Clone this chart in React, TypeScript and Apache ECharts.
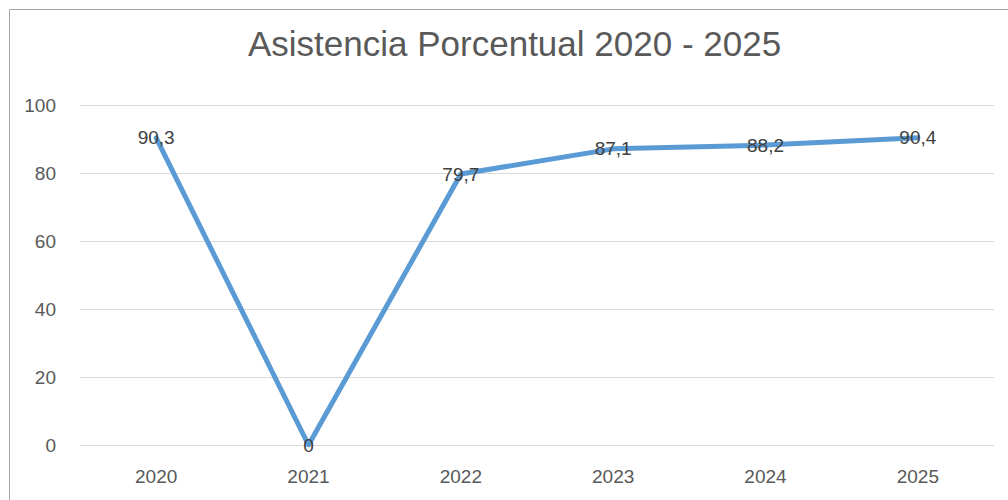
import React, { useEffect, useRef } from "react";
import * as echarts from "echarts";

const categories = ["2020", "2021", "2022", "2023", "2024", "2025"];
const values = [90.3, 0, 79.7, 87.1, 88.2, 90.4];
const titleText = "Asistencia Porcentual 2020 - 2025";

export default function App() {
  const ref = useRef<HTMLDivElement>(null);
  useEffect(() => {
    if (!ref.current) return;
    const chart = echarts.init(ref.current, undefined, { renderer: "svg" });
    chart.setOption({
      animation: false,
      backgroundColor: "#ffffff",
      textStyle: { fontFamily: "Liberation Sans, Arial, sans-serif" },
      title: {
        text: titleText,
        left: 243,
        top: 21,
        textStyle: { fontSize: 35, fontWeight: "normal", color: "#595959", fontFamily: "Liberation Sans, sans-serif" },
      },
      graphic: [
        {
          type: "rect",
          shape: { x: 9.5, y: 9.5, width: 1200, height: 800 },
          style: { fill: "none", stroke: "#a6a6a6", lineWidth: 1 },
          silent: true,
        },
      ],
      grid: { left: 80, right: 14, top: 105, bottom: 55, containLabel: false },
      xAxis: {
        type: "category",
        data: categories,
        boundaryGap: true,
        axisLine: { show: true, lineStyle: { color: "#d9d9d9", width: 1 } },
        axisTick: { show: false },
        axisLabel: { color: "#595959", fontSize: 19, margin: 22 },
      },
      yAxis: {
        type: "value",
        min: 0,
        max: 100,
        interval: 20,
        axisLine: { show: false },
        axisTick: { show: false },
        splitLine: { lineStyle: { color: "#d9d9d9", width: 1 } },
        axisLabel: { color: "#595959", fontSize: 19, margin: 24 },
      },
      series: [
        {
          type: "line",
          data: values,
          showSymbol: true,
          symbol: "circle",
          symbolSize: 1,
          lineStyle: { color: "#5b9bd5", width: 5, cap: "round", join: "round" },
          itemStyle: { color: "#5b9bd5" },
          label: {
            show: true,
            position: "inside",
            color: "#404040",
            fontSize: 19,
            formatter: (p: any) => String(p.value).replace(".", ","),
          },
        },
      ],
    });
    return () => chart.dispose();
  }, []);
  return (
    <div
      ref={ref}
      style={{ position: "fixed", left: 0, top: 0, width: 1008, height: 500 }}
    />
  );
}
